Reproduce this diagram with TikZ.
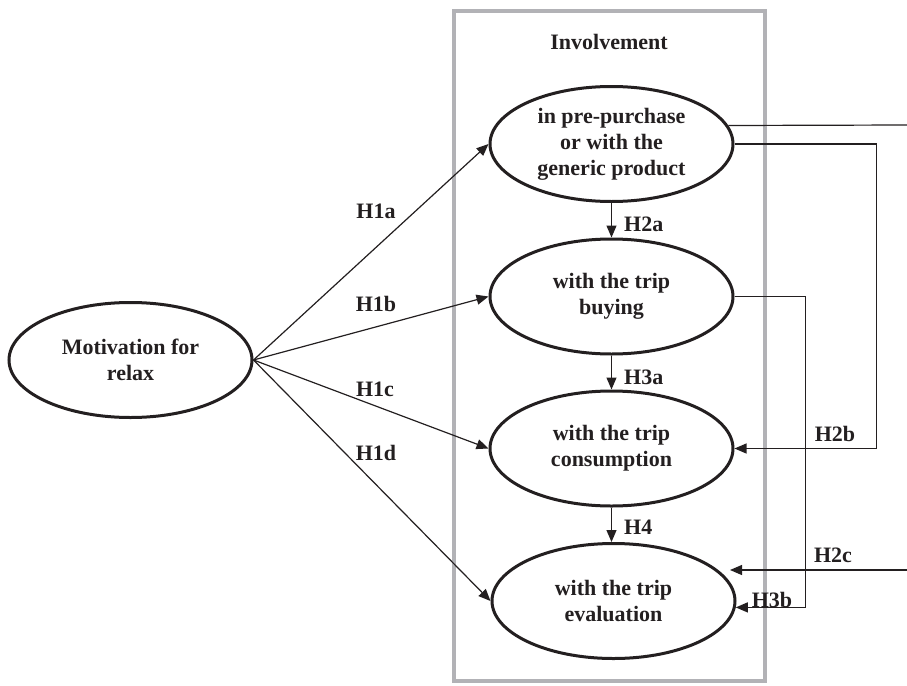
\documentclass[tikz,border=0pt]{standalone}
\usepackage{fontspec}
\setmainfont{Liberation Serif}
\usetikzlibrary{shapes.geometric,arrows.meta}
\definecolor{ink}{HTML}{231F20}
\definecolor{boxgray}{RGB}{178,178,182}
\begin{document}
\begin{tikzpicture}[x=1pt,y=-1pt,
  txt/.style={font=\fontsize{22}{26}\selectfont\bfseries, text=ink},
  ell/.style={ellipse, draw=ink, line width=3pt, minimum width=243pt, minimum height=115pt, inner sep=0pt, align=center, txt},
  lbl/.style={txt, inner sep=0pt},
  arr/.style={draw=ink, line width=1.2pt, -{Triangle[length=12pt,width=10pt]}},
  ln/.style={draw=ink, line width=1.2pt}]
\useasboundingbox (0,0) rectangle (907,685);
\draw[boxgray, line width=3.5pt] (454,11) rectangle (765,681);
\node[lbl] (inv) at (609,42) {Involvement};
\node[ell] (mot) at (130.5,360) {Motivation for\\relax};
\node[ell] (top) at (611.5,144) {in pre-purchase\\or with the\\generic product};
\node[ell] (buy) at (611.5,296.5) {with the trip\\buying};
\node[ell] (cons) at (611.5,448.5) {with the trip\\consumption};
\node[ell] (eval) at (613.5,601) {with the trip\\evaluation};
% H1 arrows
\draw[arr] (mot.east) -- (top.west);
\draw[arr] (mot.east) -- (buy.west);
\draw[arr] (mot.east) -- (cons.west);
\draw[arr] (mot.east) -- (eval.west);
\node[lbl] (h1a) at (376,211) {H1a};
\node[lbl] (h1b) at (376,304) {H1b};
\node[lbl] (h1c) at (375,389) {H1c};
\node[lbl] (h1d) at (376,453) {H1d};
% vertical arrows
\draw[arr] (top.south) -- (buy.north);
\draw[arr] (buy.south) -- (cons.north);
\draw[arr] (cons.south) -- (eval.north -| cons.south);
\node[lbl, anchor=west] (h2a) at (624,224) {H2a};
\node[lbl, anchor=west] (h3a) at (624,377) {H3a};
\node[lbl, anchor=west] (h4) at (624,527) {H4};
% right side
\coordinate (r1) at (907,125);
\draw[ln] (top.9.4) -- (r1);
\draw[arr] (top.east) -- ++(142,0) |- (cons.east);
\node[lbl] (h2b) at (835,434) {H2b};
\draw[arr] (buy.east) -- ++(71,0) |- (eval.-3.3);
\node[lbl] (h3b) at (772,600) {H3b};
\coordinate (r2) at (907,570);
\coordinate (h2ctip) at (730,570);
\draw[arr] (r2) -- (h2ctip);
\node[lbl] (h2c) at (833,555) {H2c};
\end{tikzpicture}
\end{document}
